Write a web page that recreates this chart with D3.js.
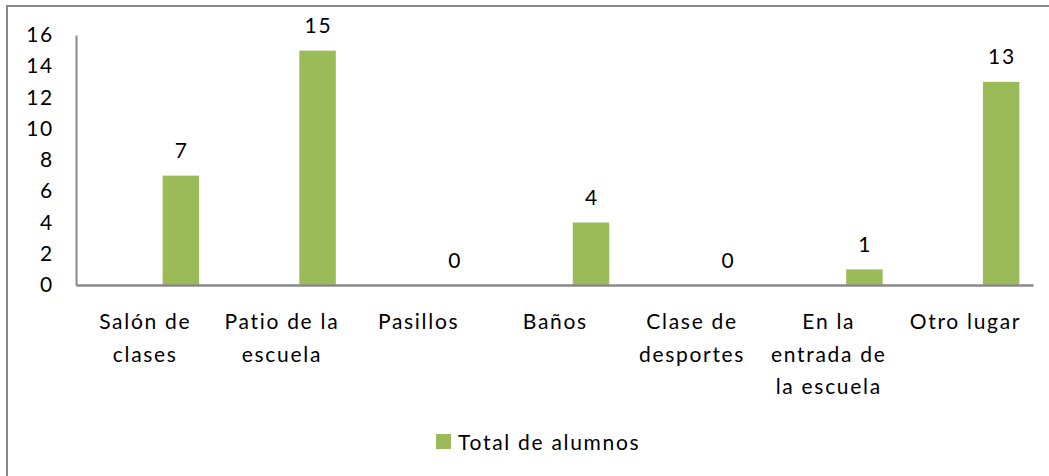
<!DOCTYPE html>
<html><head><meta charset="utf-8">
<script src="https://cdn.jsdelivr.net/npm/d3@7"></script>
<style>body{margin:0;background:#fff}svg{display:block}</style>
</head><body><svg id="c" width="1049" height="476"></svg>
<script>
const categories = [["Salón de","clases"],["Patio de la","escuela"],["Pasillos"],["Baños"],["Clase de","desportes"],["En la","entrada de","la escuela"],["Otro lugar"]];
const values = [7, 15, 0, 4, 0, 1, 13];
const yTicks = [0, 2, 4, 6, 8, 10, 12, 14, 16];
const seriesSlots = ["s1", "s2", "Total de alumnos"];
const seriesName = "Total de alumnos";

(function () {
const svg = d3.select("#c");
const font = "Lato, 'Open Sans', sans-serif";
const fs = 21, ls = 1.7;
const grey = "#898989";
const green = "#9BBB59";

svg.append("rect").attr("x", 7).attr("y", 6).attr("width", 1100).attr("height", 600)
  .attr("fill", "none").attr("stroke", grey).attr("stroke-width", 2);

const pL = 76, pR = 1033, pT = 35, pB = 285;
const idx = categories.map((d, i) => i);
const x = d3.scaleBand().domain(idx).range([pL, pR]).paddingInner(0).paddingOuter(0);
const xs = d3.scaleBand().domain(seriesSlots).range([0, x.bandwidth()]).paddingInner(0).paddingOuter(0.373);
const y = d3.scaleLinear().domain([0, 16]).range([pB, pT]);

svg.append("g").selectAll("rect").data(values).join("rect")
  .attr("x", (d, i) => x(i) + xs(seriesName))
  .attr("width", xs.bandwidth())
  .attr("y", d => y(d))
  .attr("height", d => y(0) - y(d))
  .attr("fill", green);

const yAxis = svg.append("g").attr("transform", `translate(${pL},0)`)
  .call(d3.axisLeft(y).tickValues(yTicks).tickSize(0).tickPadding(22));
yAxis.select(".domain").attr("stroke", grey).attr("stroke-width", 2);
yAxis.selectAll("text").attr("font-family", font).attr("font-size", fs).attr("letter-spacing", ls).attr("fill", "#000");

const xAxis = svg.append("g").attr("transform", `translate(0,${pB})`)
  .call(d3.axisBottom(x).tickSize(0).tickFormat(""));
xAxis.select(".domain").attr("stroke", grey).attr("stroke-width", 2.5);

const cl = svg.append("g").selectAll("text").data(categories).join("text")
  .attr("x", (d, i) => x(i) + x.bandwidth() / 2)
  .attr("y", 329)
  .attr("text-anchor", "middle")
  .attr("font-family", font).attr("font-size", fs).attr("letter-spacing", ls).attr("fill", "#000");
cl.selectAll("tspan").data(d => d).join("tspan")
  .attr("x", function () { return +d3.select(this.parentNode).attr("x") + ls / 2; })
  .attr("dy", (d, j) => j === 0 ? 0 : 32.5)
  .text(d => d);

svg.append("g").selectAll("text").data(values).join("text")
  .attr("x", (d, i) => x(i) + xs(seriesName) + xs.bandwidth() / 2 + ls / 2)
  .attr("y", d => y(d) - 17.5)
  .attr("text-anchor", "middle")
  .attr("font-family", font).attr("font-size", fs).attr("letter-spacing", ls).attr("fill", "#000")
  .text(d => d);

const lg = svg.append("g");
lg.append("rect").attr("x", 436).attr("y", 434).attr("width", 15).attr("height", 15).attr("fill", green);
lg.append("text").attr("x", 458).attr("y", 450).attr("font-family", font).attr("font-size", fs).attr("letter-spacing", ls)
  .attr("fill", "#000").text(seriesName);
})();
</script></body></html>
